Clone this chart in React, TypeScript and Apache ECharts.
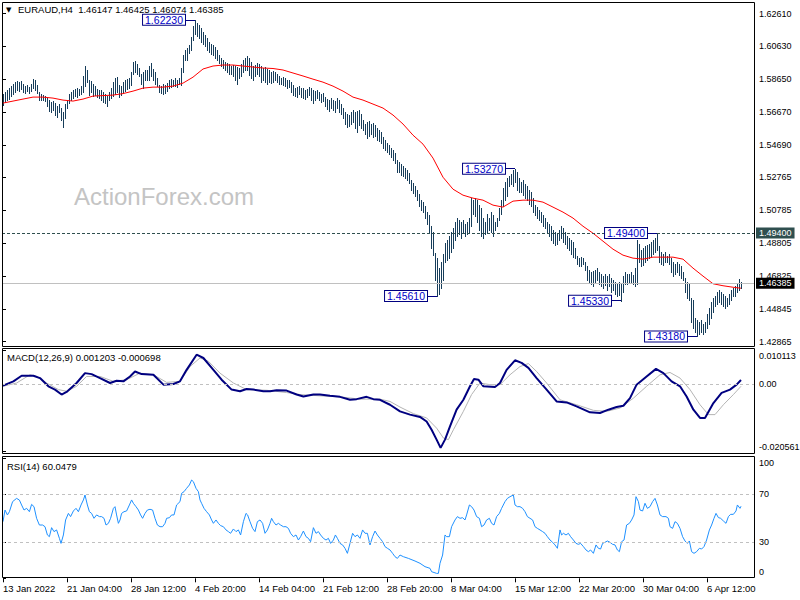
import React, { useEffect, useRef } from 'react';
import * as echarts from 'echarts';

const FONT = '"Liberation Sans", Arial, Helvetica, sans-serif';
const BAR_COLOR = '#173d5a';

const symbolTitle = 'EURAUD,H4';
const lastOHLC = [1.46147, 1.46425, 1.46074, 1.46385];
const macdTitle = 'MACD(12,26,9)';
const macdLast = [0.001203, -0.000698];
const rsiTitle = 'RSI(14)';
const rsiLast = 60.0479;
const watermark = 'ActionForex.com';

const timeLabels = ['13 Jan 2022', '21 Jan 04:00', '28 Jan 12:00', '4 Feb 20:00', '14 Feb 04:00', '21 Feb 12:00',
  '28 Feb 20:00', '8 Mar 04:00', '15 Mar 12:00', '22 Mar 20:00', '30 Mar 04:00', '6 Apr 12:00'];
const barsPerTimeLabel = 32;
const totalSlots = 376;

const priceTicks = [1.6261, 1.6063, 1.5865, 1.5667, 1.5469, 1.52765, 1.50785, 1.48805, 1.46825, 1.44845, 1.42865];
const priceRange = [1.42604, 1.632418];
const macdTicks = [0.010113, 0, -0.020561];
const rsiTicks = [100, 70, 30, 0];
const rsiLevels = [70, 30];

const barHigh = [
  1.5776, 1.5788, 1.5800, 1.5812, 1.5824, 1.5836, 1.5848, 1.5854, 1.5848, 1.5854,
  1.5836, 1.5824, 1.5830, 1.5818, 1.5836, 1.5866, 1.5860, 1.5830, 1.5788, 1.5776,
  1.5770, 1.5764, 1.5752, 1.5740, 1.5728, 1.5734, 1.5722, 1.5704, 1.5716, 1.5692,
  1.5668, 1.5716, 1.5740, 1.5776, 1.5788, 1.5800, 1.5806, 1.5812, 1.5806, 1.5824,
  1.5885, 1.5945, 1.5921, 1.5860, 1.5854, 1.5836, 1.5824, 1.5806, 1.5800, 1.5800,
  1.5788, 1.5776, 1.5764, 1.5788, 1.5812, 1.5848, 1.5872, 1.5878, 1.5830, 1.5824,
  1.5848, 1.5860, 1.5866, 1.5872, 1.5909, 1.5969, 1.5975, 1.5957, 1.5933, 1.5897,
  1.5909, 1.5921, 1.5921, 1.5945, 1.5963, 1.5927, 1.5909, 1.5872, 1.5830, 1.5824,
  1.5836, 1.5830, 1.5842, 1.5860, 1.5866, 1.5860, 1.5872, 1.5860, 1.5872, 1.5933,
  1.6011, 1.6041, 1.6053, 1.6071, 1.6119, 1.6185, 1.6223, 1.6204, 1.6192, 1.6173,
  1.6149, 1.6131, 1.6113, 1.6089, 1.6077, 1.6071, 1.6059, 1.6041, 1.6011, 1.5993,
  1.5981, 1.5969, 1.5963, 1.5957, 1.5945, 1.5951, 1.5945, 1.5939, 1.5933, 1.5957,
  1.5981, 1.5993, 1.6005, 1.5993, 1.5969, 1.5945, 1.5951, 1.5963, 1.5957, 1.5945,
  1.5933, 1.5939, 1.5927, 1.5921, 1.5909, 1.5915, 1.5909, 1.5897, 1.5885, 1.5872,
  1.5878, 1.5872, 1.5860, 1.5860, 1.5848, 1.5830, 1.5812, 1.5818, 1.5824, 1.5812,
  1.5812, 1.5800, 1.5806, 1.5818, 1.5812, 1.5800, 1.5794, 1.5800, 1.5788, 1.5776,
  1.5782, 1.5758, 1.5746, 1.5740, 1.5752, 1.5740, 1.5734, 1.5752, 1.5740, 1.5716,
  1.5692, 1.5668, 1.5656, 1.5650, 1.5668, 1.5680, 1.5668, 1.5674, 1.5680, 1.5656,
  1.5620, 1.5596, 1.5608, 1.5614, 1.5596, 1.5602, 1.5590, 1.5571, 1.5559, 1.5547,
  1.5517, 1.5499, 1.5481, 1.5469, 1.5451, 1.5439, 1.5421, 1.5379, 1.5367, 1.5355,
  1.5343, 1.5331, 1.5319, 1.5301, 1.5258, 1.5240, 1.5222, 1.5198, 1.5174, 1.5138,
  1.5126, 1.5102, 1.5066, 1.5048, 1.4981, 1.4945, 1.4819, 1.4789, 1.4729, 1.4765,
  1.4813, 1.4879, 1.4897, 1.4921, 1.4945, 1.4970, 1.5006, 1.5030, 1.5018, 1.5006,
  1.5018, 1.4994, 1.5006, 1.5030, 1.5150, 1.5138, 1.5150, 1.5138, 1.5108, 1.5090,
  1.5030, 1.5006, 1.5054, 1.5030, 1.5066, 1.5048, 1.5006, 1.5030, 1.5090, 1.5138,
  1.5210, 1.5246, 1.5270, 1.5282, 1.5294, 1.5319, 1.5327, 1.5307, 1.5270, 1.5246,
  1.5258, 1.5234, 1.5222, 1.5198, 1.5186, 1.5150, 1.5108, 1.5096, 1.5078, 1.5066,
  1.5048, 1.5030, 1.5006, 1.4994, 1.4981, 1.4957, 1.4945, 1.4939, 1.4957, 1.4981,
  1.4970, 1.4945, 1.4921, 1.4909, 1.4897, 1.4885, 1.4849, 1.4801, 1.4789, 1.4795,
  1.4789, 1.4765, 1.4741, 1.4717, 1.4705, 1.4711, 1.4717, 1.4729, 1.4705, 1.4693,
  1.4681, 1.4693, 1.4681, 1.4693, 1.4669, 1.4656, 1.4644, 1.4638, 1.4644, 1.4632,
  1.4681, 1.4705, 1.4693, 1.4693, 1.4705, 1.4687, 1.4729, 1.4897, 1.4873, 1.4837,
  1.4849, 1.4861, 1.4867, 1.4873, 1.4885, 1.4897, 1.4909, 1.4940, 1.4861, 1.4825,
  1.4813, 1.4825, 1.4801, 1.4813, 1.4789, 1.4765, 1.4753, 1.4765, 1.4753, 1.4741,
  1.4705, 1.4669, 1.4644, 1.4632, 1.4548, 1.4536, 1.4428, 1.4416, 1.4404, 1.4416,
  1.4392, 1.4404, 1.4452, 1.4488, 1.4524, 1.4548, 1.4560, 1.4584, 1.4596, 1.4584,
  1.4572, 1.4560, 1.4548, 1.4572, 1.4596, 1.4608, 1.4620, 1.4632, 1.4662, 1.46425,
];

const barLow = [
  1.5710, 1.5728, 1.5740, 1.5746, 1.5764, 1.5776, 1.5788, 1.5800, 1.5794, 1.5806,
  1.5788, 1.5782, 1.5794, 1.5782, 1.5794, 1.5812, 1.5800, 1.5782, 1.5740, 1.5740,
  1.5740, 1.5734, 1.5704, 1.5674, 1.5668, 1.5680, 1.5650, 1.5638, 1.5668, 1.5620,
  1.5577, 1.5632, 1.5692, 1.5722, 1.5740, 1.5752, 1.5764, 1.5758, 1.5770, 1.5776,
  1.5788, 1.5824, 1.5848, 1.5770, 1.5788, 1.5764, 1.5770, 1.5758, 1.5752, 1.5740,
  1.5728, 1.5722, 1.5704, 1.5740, 1.5752, 1.5764, 1.5776, 1.5788, 1.5758, 1.5770,
  1.5788, 1.5794, 1.5806, 1.5812, 1.5830, 1.5897, 1.5909, 1.5897, 1.5885, 1.5836,
  1.5812, 1.5860, 1.5860, 1.5860, 1.5885, 1.5860, 1.5836, 1.5824, 1.5788, 1.5782,
  1.5776, 1.5782, 1.5794, 1.5812, 1.5818, 1.5824, 1.5824, 1.5818, 1.5836, 1.5830,
  1.5909, 1.5981, 1.5981, 1.6023, 1.6041, 1.6101, 1.6137, 1.6125, 1.6113, 1.6089,
  1.6077, 1.6065, 1.6041, 1.6029, 1.6017, 1.6011, 1.5993, 1.5981, 1.5963, 1.5945,
  1.5933, 1.5921, 1.5909, 1.5897, 1.5897, 1.5885, 1.5860, 1.5836, 1.5872, 1.5885,
  1.5909, 1.5921, 1.5921, 1.5891, 1.5872, 1.5860, 1.5885, 1.5897, 1.5885, 1.5848,
  1.5860, 1.5848, 1.5836, 1.5848, 1.5842, 1.5848, 1.5860, 1.5848, 1.5836, 1.5836,
  1.5830, 1.5824, 1.5812, 1.5818, 1.5788, 1.5770, 1.5764, 1.5758, 1.5776, 1.5758,
  1.5752, 1.5746, 1.5758, 1.5770, 1.5740, 1.5722, 1.5740, 1.5752, 1.5740, 1.5728,
  1.5734, 1.5704, 1.5686, 1.5674, 1.5692, 1.5680, 1.5668, 1.5692, 1.5668, 1.5656,
  1.5632, 1.5596, 1.5577, 1.5583, 1.5596, 1.5608, 1.5571, 1.5547, 1.5590, 1.5571,
  1.5559, 1.5535, 1.5511, 1.5523, 1.5535, 1.5517, 1.5523, 1.5499, 1.5493, 1.5481,
  1.5451, 1.5439, 1.5427, 1.5415, 1.5397, 1.5379, 1.5361, 1.5306, 1.5306, 1.5288,
  1.5282, 1.5270, 1.5258, 1.5240, 1.5198, 1.5180, 1.5162, 1.5138, 1.5102, 1.5078,
  1.5066, 1.5030, 1.4994, 1.4945, 1.4849, 1.4807, 1.4656, 1.4561, 1.4573, 1.4609,
  1.4656, 1.4765, 1.4777, 1.4789, 1.4825, 1.4849, 1.4897, 1.4921, 1.4933, 1.4909,
  1.4945, 1.4921, 1.4933, 1.4945, 1.4981, 1.5054, 1.5042, 1.5006, 1.4957, 1.4921,
  1.4909, 1.4933, 1.4945, 1.4957, 1.4945, 1.4921, 1.4957, 1.4981, 1.5018, 1.5054,
  1.5102, 1.5138, 1.5162, 1.5222, 1.5234, 1.5222, 1.5246, 1.5198, 1.5186, 1.5186,
  1.5168, 1.5150, 1.5138, 1.5114, 1.5102, 1.5066, 1.5048, 1.5030, 1.5018, 1.5006,
  1.4981, 1.4970, 1.4945, 1.4921, 1.4897, 1.4879, 1.4867, 1.4873, 1.4897, 1.4909,
  1.4885, 1.4873, 1.4849, 1.4837, 1.4813, 1.4795, 1.4789, 1.4753, 1.4741, 1.4741,
  1.4753, 1.4717, 1.4656, 1.4644, 1.4632, 1.4620, 1.4644, 1.4656, 1.4632, 1.4620,
  1.4608, 1.4626, 1.4596, 1.4620, 1.4584, 1.4596, 1.4572, 1.4560, 1.4566, 1.4533,
  1.4584, 1.4632, 1.4632, 1.4644, 1.4644, 1.4632, 1.4620, 1.4632, 1.4765, 1.4741,
  1.4747, 1.4765, 1.4777, 1.4789, 1.4801, 1.4813, 1.4825, 1.4837, 1.4765, 1.4753,
  1.4747, 1.4765, 1.4765, 1.4753, 1.4705, 1.4681, 1.4693, 1.4705, 1.4687, 1.4669,
  1.4656, 1.4584, 1.4548, 1.4536, 1.4404, 1.4367, 1.4343, 1.4318, 1.4331, 1.4343,
  1.4331, 1.4343, 1.4367, 1.4392, 1.4428, 1.4464, 1.4500, 1.4512, 1.4524, 1.4512,
  1.4500, 1.4488, 1.4500, 1.4512, 1.4536, 1.4560, 1.4560, 1.4584, 1.4596, 1.46074,
];

// moving average (red) sampled as [bar index, price]
const maPoints = [
  [0, 1.5722], [5, 1.5734], [10, 1.5746], [15, 1.5758], [20, 1.5758], [25, 1.5752], [30, 1.5740], [35, 1.5734],
  [40, 1.5746], [45, 1.5764], [50, 1.5767], [55, 1.5770], [60, 1.5779], [65, 1.5794], [70, 1.5812], [75, 1.5818],
  [80, 1.5818], [85, 1.5824], [90, 1.5842], [95, 1.5878], [100, 1.5927], [105, 1.5945], [110, 1.5951], [115, 1.5951],
  [120, 1.5945], [125, 1.5939], [130, 1.5933], [135, 1.5930], [140, 1.5921], [145, 1.5903], [150, 1.5885], [155, 1.5866],
  [160, 1.5848], [165, 1.5824], [170, 1.5794], [175, 1.5758], [180, 1.5740], [185, 1.5716], [190, 1.5692], [195, 1.5650],
  [200, 1.5596], [205, 1.5529], [210, 1.5475], [215, 1.5391], [220, 1.5276], [225, 1.5204], [230, 1.5168], [235, 1.5150],
  [240, 1.5138], [245, 1.5108], [250, 1.5096], [255, 1.5132], [260, 1.5138], [265, 1.5138], [270, 1.5126], [275, 1.5096],
  [280, 1.5066], [285, 1.5030], [290, 1.4981], [295, 1.4939], [300, 1.4891], [305, 1.4843], [310, 1.4807], [315, 1.4789],
  [320, 1.4783], [325, 1.4795], [330, 1.4795], [335, 1.4795], [340, 1.4783], [345, 1.4729], [350, 1.4681], [355, 1.4635],
  [360, 1.4623], [365, 1.4614], [369, 1.4608],
];

const macdMain = [
  [0, -0.0005], [5.2, 0.0008], [9.3, 0.0025], [15.2, 0.0025], [18.5, 0.0018], [22.7, -0.0007], [26, -0.0017], [29.3, -0.0032],
  [31.8, -0.0024], [36.8, 0.0003], [41, 0.0033], [44.3, 0.0030], [48.5, 0.0018], [53.5, 0.0003], [56.8, 0.0010], [60.2, 0.0008],
  [63.5, 0.0023], [66, 0.0038], [69.3, 0.0030], [75.2, 0.0028], [80.2, -0.0002], [85.2, 0], [88.5, 0.0008], [91.8, 0.0043],
  [96.8, 0.0089], [100.2, 0.0079], [105.2, 0.0043], [109.3, 0.0013], [114.3, -0.0017], [118.5, -0.0022], [121.8, -0.0015],
  [125.2, -0.0017], [130.2, -0.0022], [133.5, -0.0022], [136.8, -0.0019], [141.8, -0.0020], [146.8, -0.0032], [150.2, -0.0038],
  [155.2, -0.0032], [158.5, -0.0032], [163.5, -0.0036], [168.5, -0.0039], [173.5, -0.0048], [176.8, -0.0046], [181.8, -0.0039],
  [185.2, -0.0046], [188.5, -0.0048], [193.5, -0.0063], [198.5, -0.0083], [203.5, -0.0093], [208.5, -0.0100], [211.8, -0.0114],
  [214.3, -0.0139], [216.8, -0.0169], [218.8, -0.0194], [221, -0.0169], [223.5, -0.0129], [226.8, -0.0078], [230.2, -0.0048],
  [233.5, -0.0007], [235.5, 0.0015], [237.7, 0.0013], [240.2, -0.0007], [246, -0.0009], [248.5, 0.0003], [251.8, 0.0043],
  [256, 0.0072], [259.3, 0.0064], [262.7, 0.0049], [266.8, 0.0018], [271.8, -0.0017], [276.8, -0.0053], [281.8, -0.0056],
  [286.8, -0.0068], [293.5, -0.0086], [298.5, -0.0088], [302.7, -0.0078], [306.8, -0.0070], [310.2, -0.0066], [313.5, -0.0043],
  [316.8, -0.0002], [321.8, 0.0023], [326.5, 0.0046], [330.2, 0.0033], [334.3, 0.0008], [338.5, -0.0007], [341.8, -0.0038],
  [345.2, -0.0078], [348.5, -0.0103], [351, -0.0103], [355.2, -0.0058], [359.3, -0.0027], [363.5, -0.0017], [366.8, -0.0002],
  [369, 0.001203],
];

const macdSignal = [
  [0, -0.0007], [6.8, 0.0003], [13.5, 0.0028], [16.8, 0.0023], [21.8, 0.0003], [27.7, -0.0017], [31.8, -0.0022], [36.8, -0.0007],
  [41.8, 0.0023], [48.5, 0.0023], [55.2, 0.0008], [61.8, 0.0013], [68.5, 0.0033], [75.2, 0.0028], [81.8, 0.0005], [88.5, 0.0008],
  [93.5, 0.0053], [98.5, 0.0079], [102.7, 0.0069], [108.5, 0.0033], [115.2, 0.0003], [121.8, -0.0017], [131.8, -0.0019],
  [141.8, -0.0026], [148.5, -0.0032], [158.5, -0.0036], [168.5, -0.0039], [178.5, -0.0046], [188.5, -0.0046], [193.5, -0.0053],
  [198.5, -0.0070], [205.2, -0.0090], [211.8, -0.0103], [216.8, -0.0134], [220.2, -0.0164], [222.7, -0.0169], [225.2, -0.0139],
  [230.2, -0.0083], [234.3, -0.0032], [238.5, 0.0003], [243.5, -0.0002], [248.5, -0.0002], [253.5, 0.0028], [258.5, 0.0053],
  [262.7, 0.0062], [266.8, 0.0038], [271.8, 0.0003], [278.5, -0.0048], [286.8, -0.0063], [295.2, -0.0080], [301.8, -0.0083],
  [308.5, -0.0073], [315.2, -0.0043], [321.8, -0.0007], [328.5, 0.0028], [333.5, 0.0035], [338.5, 0.0018], [343.5, -0.0017],
  [348.5, -0.0063], [352.7, -0.0093], [356, -0.0093], [360.2, -0.0063], [365.2, -0.0032], [369, -0.000698],
];

const rsiPoints = [
  [0, 47.2], [1, 56.9], [2.2, 52.8], [3.2, 55.5], [4.8, 63.9], [6.8, 66.6], [8.2, 65.2], [9.3, 61.1], [10.5, 56.9], [11.8, 58.3],
  [13.2, 55.5], [14.3, 61.6], [15.5, 59.7], [16.8, 50], [18.2, 44.4], [19.8, 44.4], [21, 43], [22.2, 36.1], [23.2, 34.7], [24.3, 42.2],
  [25.5, 38.9], [26.8, 40.3], [28.2, 33.3], [29, 29.1], [30.2, 36.1], [31.3, 48.6], [32.7, 54.1], [33.8, 51.4], [35.2, 56.1], [36.5, 58.3],
  [37.7, 55.5], [39, 61.1], [40.2, 65.3], [41, 69.4], [42.2, 61.1], [43.2, 55.5], [44.3, 54.1], [45.5, 50], [46.8, 52.8], [48.2, 51.4],
  [49.3, 51.4], [50.5, 50], [51.5, 44.4], [52.7, 45.8], [53.8, 50], [55.2, 58.3], [56, 59.7], [56.8, 52.8], [57.7, 45.8], [58.5, 48.6],
  [59.3, 54.1], [60.5, 55.5], [61.8, 56.1], [63.2, 61.1], [64.3, 65.3], [65.2, 62.5], [66.5, 59.7], [67.7, 56.9], [68.8, 52.8], [69.8, 50],
  [71, 54.1], [72.2, 56.9], [73.5, 57.5], [74.8, 56.9], [76, 50], [77.2, 44.4], [78.5, 43], [79.8, 43], [81, 45.8], [81.8, 50],
  [83.2, 50.5], [84.3, 52.8], [85.5, 52.8], [86.8, 61.1], [88.5, 63.9], [89.3, 70.8], [90.5, 72.2], [91.8, 75], [93.2, 77.8], [94.3, 81.9],
  [95.2, 80.5], [96.5, 75], [97.7, 72.2], [98.5, 65.3], [99.3, 62.5], [100.5, 58.3], [101.8, 55.5], [103.2, 52.8], [104.3, 48.6], [105.2, 45.8],
  [106.5, 48.6], [107.7, 45.8], [108.8, 43.9], [110.2, 43], [111.5, 40.3], [112.7, 38.9], [113.8, 37.5], [115.2, 41.1], [116.5, 38.9], [117.7, 40.3],
  [118.8, 36.1], [120.2, 47.2], [121.5, 54.1], [122.3, 52.8], [123.5, 47.2], [124.8, 41.6], [126, 38.9], [127.2, 47.2], [128.5, 48.6], [129.8, 45.8],
  [131, 37.5], [132.2, 40.3], [133.5, 45.8], [134.3, 50], [135.2, 47.2], [136.5, 44.4], [137.7, 45.8], [138.8, 44.4], [140.2, 43], [141.5, 43],
  [142.7, 41.6], [143.8, 37.5], [145.2, 34.7], [146.5, 36.1], [147.7, 31.9], [148.8, 34.7], [150.2, 39.4], [151.5, 34.7], [152.7, 33.3], [153.8, 30.5],
  [155.2, 42.2], [156.5, 37.5], [157.7, 38.9], [158.8, 36.1], [160.2, 33.3], [161.5, 31.9], [162.7, 33.3], [163.8, 29.1], [165.2, 31.9], [166.2, 36.1],
  [167.2, 33.3], [168.5, 29.1], [169.8, 27.8], [171, 25], [172.2, 20.8], [173.5, 29.1], [174.8, 37.5], [176, 34.7], [177.2, 36.1], [178.5, 33.3],
  [179.8, 40.3], [181, 37.5], [182.2, 37.5], [183.5, 27.8], [184.8, 34.7], [186, 39.4], [187.2, 36.1], [188.5, 33.3], [189.8, 30.5], [191, 26.4],
  [192.2, 25], [193.5, 23.6], [194.8, 20.8], [196, 18], [197.2, 16.6], [198.5, 19.4], [200.2, 18], [202.7, 16.6], [206, 14.4], [208.5, 12.5],
  [211, 9.7], [213.5, 8.3], [214.3, 5.5], [216.8, 4.1], [217.7, 4.1], [218.5, 12.5], [219.8, 19.4], [221, 36.1], [221.8, 34.7], [223.2, 34.7],
  [224.3, 43], [226, 48.6], [227.2, 51.4], [228.5, 50], [229.8, 50.5], [231, 48.6], [231.8, 52.8], [233.2, 61.1], [234.3, 59.7], [235.5, 56.9],
  [236.8, 51.4], [238.2, 50], [239.3, 43], [240.5, 44.4], [241.8, 48.6], [243.2, 50], [244.3, 45.8], [245.5, 44.4], [246.8, 51.4], [248.2, 54.1],
  [249.3, 58.3], [251, 63.9], [252.2, 66.6], [253.5, 68], [255.2, 69.4], [256, 61.1], [257.2, 59.7], [258.5, 59.7], [259.8, 58.3], [261, 55.5],
  [262.2, 51.4], [263.5, 50], [264.8, 48.6], [266, 43], [267.2, 41.6], [268.5, 40.3], [269.8, 38.9], [271, 37.5], [272.2, 34.7], [273.5, 31.9],
  [274.8, 30], [276, 27.8], [277.2, 25], [278.5, 40.3], [279.3, 36.1], [280.2, 37.5], [281.5, 36.1], [282.7, 37.5], [283.8, 34.7], [285.2, 31.9],
  [286.5, 29.1], [287.7, 28.3], [288.8, 29.1], [290.2, 26.4], [291.5, 23.6], [292.7, 22.2], [293.8, 23.6], [295.2, 20.8], [296.5, 27.8], [297.7, 25],
  [298.8, 24.4], [299.8, 29.1], [301, 30], [302.2, 31.1], [303.5, 30], [304.8, 28.3], [306, 27.8], [307.2, 23.6], [308.2, 22.2], [309.3, 30.5],
  [310.5, 31.9], [311.8, 44.4], [313.2, 45.8], [314.3, 48.6], [315.5, 52.8], [316.5, 68], [317.7, 63.9], [318.5, 56.9], [319.8, 56.1], [321, 62.5],
  [322.2, 58.3], [323.5, 59.7], [324.8, 63.9], [326, 66.6], [327.2, 61.1], [328.5, 52.8], [329.8, 51.4], [331.5, 51.4], [332.7, 50], [333.5, 43],
  [334.8, 41.6], [336, 47.2], [337.2, 45.8], [338.5, 41.6], [339.8, 34.7], [341, 31.1], [342.2, 29.1], [343.2, 31.1], [344.3, 22.2], [345.5, 20.8],
  [346.8, 22.2], [348.2, 25], [349.3, 24.4], [350.5, 26.4], [351.8, 31.9], [353.2, 40.3], [354.3, 44.4], [355.5, 50], [356.5, 54.1], [357.7, 50.6],
  [358.8, 50], [360.2, 47.8], [361.5, 45.8], [362.7, 51.4], [363.8, 53.3], [365.2, 53.3], [366.5, 56.1], [367.2, 61.1], [368.5, 58.3], [369, 60.0479],
];

// swing high/low annotations: [bar index, price]
const swingMarks = [[96, 1.6223], [256, 1.5327], [217, 1.4561], [309, 1.4533], [327, 1.494], [347, 1.4318]];
const resistanceLevel = 1.494;
const lastPrice = 1.46385;

const fmt5 = (v: number) => v.toFixed(5);

function buildOption() {
  const tickIdx = timeLabels.map((_, k) => k * barsPerTimeLabel);
  const bars = barHigh.map((h, i) => [i, h, barLow[i]]);
  const xBase = { type: 'value', min: -0.5, max: totalSlots - 0.5, splitLine: { show: false } };
  const lbl = { fontFamily: FONT, fontSize: 9, color: '#000' };
  const near = (a: number, b: number) => Math.abs(a - b) < 1e-9;

  return {
    animation: false,
    backgroundColor: '#fff',
    textStyle: { fontFamily: FONT },
    grid: [
      { left: 2, top: 3, width: 752, height: 343, outerBoundsMode: 'none' },
      { left: 2, top: 350.7, width: 752, height: 101, outerBoundsMode: 'none' },
      { left: 2, top: 458.3, width: 752, height: 120, outerBoundsMode: 'none' },
    ],
    xAxis: [
      { ...xBase, gridIndex: 0, show: false },
      { ...xBase, gridIndex: 1, show: false },
      {
        ...xBase, gridIndex: 2, position: 'bottom',
        axisLine: { show: false },
        axisTick: { show: true, customValues: tickIdx, length: 4, lineStyle: { color: '#000', width: 1 } },
        axisLabel: {
          ...lbl, fontSize: 9.5, customValues: tickIdx, align: 'left', margin: 5,
          formatter: (v: number) => timeLabels[Math.round(v / barsPerTimeLabel)] ?? '',
        },
      },
    ],
    yAxis: [
      {
        type: 'value', gridIndex: 0, position: 'right', min: priceRange[0], max: priceRange[1],
        splitLine: { show: false }, axisLine: { show: false },
        axisTick: { show: true, customValues: priceTicks, length: 3, lineStyle: { color: '#000' } },
        axisLabel: { ...lbl, customValues: priceTicks, margin: 5, formatter: (v: number) => fmt5(v) },
      },
      {
        type: 'value', gridIndex: 1, position: 'right', min: macdTicks[2], max: macdTicks[0],
        splitLine: { show: false }, axisLine: { show: false },
        axisTick: { show: true, customValues: macdTicks, length: 3, lineStyle: { color: '#000' } },
        axisLabel: {
          ...lbl, customValues: macdTicks, margin: 5,
          formatter: (v: number) => near(v, macdTicks[0]) ? `{t|${v.toFixed(6)}}` : near(v, macdTicks[2]) ? `{b|${v.toFixed(6)}}` : `{m|0.00}`,
          rich: {
            t: { ...lbl, padding: [10, 0, 0, 0] },
            b: { ...lbl, padding: [0, 0, 9, 0] },
            m: { ...lbl },
          },
        },
      },
      {
        type: 'value', gridIndex: 2, position: 'right', min: 0, max: 100,
        splitLine: { show: false }, axisLine: { show: false },
        axisTick: { show: true, customValues: rsiTicks, length: 3, lineStyle: { color: '#000' } },
        axisLabel: {
          ...lbl, customValues: rsiTicks, margin: 5,
          formatter: (v: number) => v === 100 ? `{t|${v}}` : v === 0 ? `{b|${v}}` : `{m|${v}}`,
          rich: {
            t: { ...lbl, padding: [10, 0, 0, 0] },
            b: { ...lbl, padding: [0, 0, 12, 0] },
            m: { ...lbl },
          },
        },
      },
    ],
    series: [
      {
        type: 'custom', name: 'bars', xAxisIndex: 0, yAxisIndex: 0, data: bars, clip: true, z: 2,
        encode: { x: 0, y: [1, 2] },
        renderItem: (_p: any, api: any) => {
          const i = api.value(0);
          const top = api.coord([i, api.value(1)]);
          const bot = api.coord([i, api.value(2)]);
          const x = Math.round(top[0]) + 0.5;
          return {
            type: 'line',
            shape: { x1: x, y1: Math.round(top[1]), x2: x, y2: Math.round(bot[1]) + 1 },
            style: { stroke: BAR_COLOR, lineWidth: 1 },
          };
        },
      },
      {
        type: 'line', name: 'MA', xAxisIndex: 0, yAxisIndex: 0, data: maPoints, showSymbol: false, symbol: 'none',
        lineStyle: { color: '#ff0000', width: 1 }, z: 3, silent: true,
        markLine: {
          silent: true, symbol: 'none', animation: false, precision: 5,
          data: [
            {
              yAxis: resistanceLevel,
              lineStyle: { color: '#2f4f4f', type: [3, 2], width: 1 },
              label: { show: true, position: 'end', distance: 2, formatter: fmt5(resistanceLevel), ...lbl, color: '#fff', backgroundColor: '#2f4f4f', padding: [1, 3, 1, 3] },
            },
            {
              yAxis: lastPrice,
              lineStyle: { color: '#c0c0c0', type: 'solid', width: 1 },
              label: { show: true, position: 'end', distance: 2, formatter: fmt5(lastPrice), ...lbl, color: '#fff', backgroundColor: '#000', padding: [1, 3, 1, 3] },
            },
            ...swingMarks.map(([bar, price]) => [
              {
                coord: [bar - 5, price],
                lineStyle: { color: '#000080', type: 'solid', width: 1 },
                label: {
                  show: true, position: 'start', distance: 0, formatter: fmt5(price),
                  fontFamily: FONT, fontSize: 10.5, lineHeight: 10, color: '#0000c8', backgroundColor: '#fff',
                  borderColor: '#000080', borderWidth: 1, padding: [0, 2, 0, 2],
                },
              },
              { coord: [bar, price] },
            ]),
          ],
        },
      },
      {
        type: 'line', name: 'Signal', xAxisIndex: 1, yAxisIndex: 1, data: macdSignal, symbol: 'none',
        lineStyle: { color: '#b4b4b4', width: 1 }, z: 2, silent: true,
        markLine: {
          silent: true, symbol: 'none', label: { show: false }, precision: 6,
          lineStyle: { color: '#c0c0c0', type: [3, 3], width: 1 },
          data: [{ yAxis: 0 }],
        },
      },
      {
        type: 'line', name: 'MACD', xAxisIndex: 1, yAxisIndex: 1, data: macdMain, symbol: 'none',
        lineStyle: { color: '#000080', width: 2 }, z: 3, silent: true,
      },
      {
        type: 'line', name: 'RSI', xAxisIndex: 2, yAxisIndex: 2, data: rsiPoints, symbol: 'none',
        lineStyle: { color: '#1e90ff', width: 1 }, z: 3, silent: true,
        markLine: {
          silent: true, symbol: 'none', label: { show: false },
          lineStyle: { color: '#c0c0c0', type: [3, 3], width: 1 },
          data: rsiLevels.map((v) => ({ yAxis: v })),
        },
      },
    ],
    graphic: [
      { type: 'text', left: 74, top: 184, silent: true, z: 0, style: { text: watermark, fontFamily: FONT, fontSize: 24, fill: '#c4c4c4' } },
      { type: 'text', x: 6, y: 10, silent: true, z: 50, style: { text: '▼', fontFamily: '"DejaVu Sans", sans-serif', fontSize: 7, fill: '#000', verticalAlign: 'middle' } },
      { type: 'text', x: 18, y: 9.5, silent: true, z: 50, style: { text: `${symbolTitle}  ${lastOHLC.map(fmt5).join(' ')}`, fontFamily: FONT, fontSize: 9.5, lineHeight: 10, fill: '#000', verticalAlign: 'middle' } },
      { type: 'text', x: 7, y: 357, silent: true, z: 50, style: { text: `${macdTitle} ${macdLast.map((v) => v.toFixed(6)).join(' ')}`, fontFamily: FONT, fontSize: 9.5, fill: '#000', verticalAlign: 'middle' } },
      { type: 'text', x: 7, y: 466, silent: true, z: 50, style: { text: `${rsiTitle} ${rsiLast.toFixed(4)}`, fontFamily: FONT, fontSize: 9.5, fill: '#000', verticalAlign: 'middle' } },
      { type: 'rect', silent: true, z: 60, shape: { x: 2.5, y: 2.5, width: 752, height: 344 }, style: { fill: 'none', stroke: '#000', lineWidth: 1 } },
      { type: 'rect', silent: true, z: 60, shape: { x: 2.5, y: 348.5, width: 752, height: 105 }, style: { fill: 'none', stroke: '#000', lineWidth: 1 } },
      { type: 'rect', silent: true, z: 60, shape: { x: 2.5, y: 456.5, width: 752, height: 121 }, style: { fill: 'none', stroke: '#000', lineWidth: 1 } },
    ],
  };
}

export default function App() {
  const ref = useRef<HTMLDivElement>(null);
  useEffect(() => {
    if (!ref.current) return;
    const chart = echarts.init(ref.current, null, { renderer: 'svg' });
    chart.setOption(buildOption() as any);
    return () => chart.dispose();
  }, []);
  return (
    <div
      ref={ref}
      style={{ position: 'absolute', left: 0, top: 0, width: 800, height: 600, background: '#fff' }}
    />
  );
}
